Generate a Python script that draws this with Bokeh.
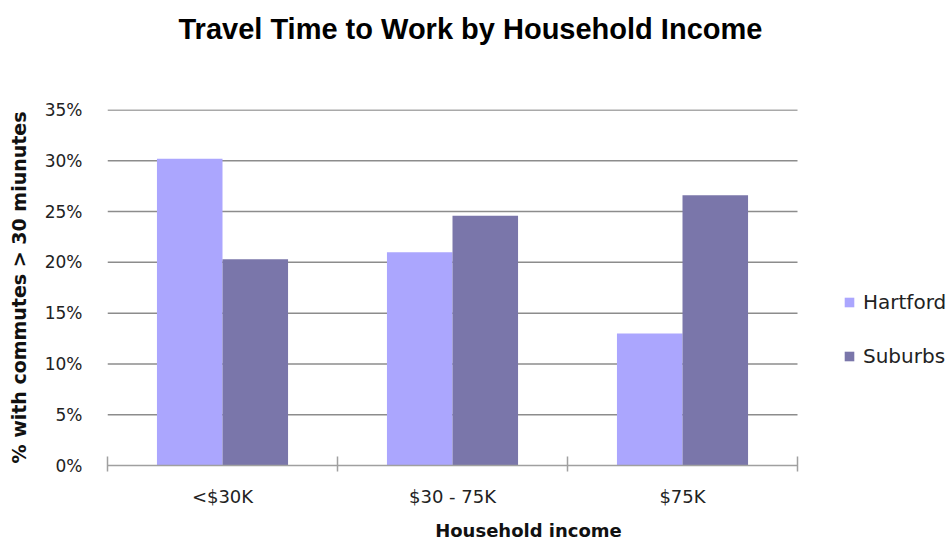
from bokeh.plotting import figure
from bokeh.models import (ColumnDataSource, FixedTicker, Legend, LegendItem,
                          NumeralTickFormatter, Range1d, Title)
from bokeh.transform import dodge
from bokeh.embed import file_html
from bokeh.resources import INLINE

categories = ["<$30K", "$30 - 75K", "$75K"]
hartford = [0.302, 0.210, 0.130]
suburbs = [0.203, 0.246, 0.266]
y_ticks = [0, 0.05, 0.10, 0.15, 0.20, 0.25, 0.30, 0.35]

FONT = "DejaVu Sans"
n = len(categories)
xpos = [i + 0.5 for i in range(n)]
src = ColumnDataSource(dict(x=xpos, hartford=hartford, suburbs=suburbs))

# layout (pixels)
LEFT, TOP, FW, FH, CAT_PX = 107, 109, 842, 356, 230
YMAX = 0.3505

p = figure(frame_width=FW, frame_height=FH, output_backend="svg",
           toolbar_location=None,
           x_range=Range1d(0, FW / CAT_PX), y_range=Range1d(0, YMAX),
           min_border_left=LEFT, min_border_right=0, min_border_top=TOP,
           min_border_bottom=10)
p.outline_line_color = None
p.background_fill_color = "white"
p.border_fill_color = "white"

# horizontal gridlines, only across the category area
gl = ColumnDataSource(dict(y=y_ticks[1:], x0=[0] * (len(y_ticks) - 1),
                           x1=[n] * (len(y_ticks) - 1)))
p.segment(x0="x0", x1="x1", y0="y", y1="y", source=gl,
          line_color="#8c8c8c", line_width=1.5)
p.xgrid.grid_line_color = None
p.ygrid.grid_line_color = None

r1 = p.vbar(x=dodge("x", -0.1425, range=p.x_range), top="hartford", width=0.285,
            source=src, fill_color="#aba6fe", line_color=None)
r2 = p.vbar(x=dodge("x", 0.1425, range=p.x_range), top="suburbs", width=0.285,
            source=src, fill_color="#7a76aa", line_color=None)

# y axis
p.yaxis.ticker = FixedTicker(ticks=y_ticks)
p.yaxis.formatter = NumeralTickFormatter(format="0%")
p.yaxis.axis_line_color = None
p.yaxis.major_tick_line_color = None
p.yaxis.minor_tick_line_color = None
p.yaxis.major_label_standoff = 19
p.yaxis.major_label_text_font = FONT
p.yaxis.major_label_text_font_size = "17px"
p.yaxis.major_label_text_color = "#222222"
p.yaxis.axis_label = "% with commutes > 30 miunutes"
p.yaxis.axis_label_text_font = FONT
p.yaxis.axis_label_text_font_style = "bold"
p.yaxis.axis_label_text_font_size = "19px"
p.yaxis.axis_label_text_color = "#111111"
p.yaxis.axis_label_standoff = 12

# x axis
p.xaxis.bounds = (0, n)
p.xaxis.ticker = FixedTicker(ticks=xpos, minor_ticks=list(range(n + 1)))
p.xaxis.major_label_overrides = {x: c for x, c in zip(xpos, categories)}
p.xaxis.axis_line_color = "#a0a0a0"
p.xaxis.axis_line_width = 1.5
p.xaxis.major_tick_line_color = None
p.xaxis.minor_tick_line_color = "#a0a0a0"
p.xaxis.minor_tick_line_width = 1.5
p.xaxis.minor_tick_in = 9
p.xaxis.minor_tick_out = 6
p.xaxis.major_label_standoff = 14
p.xaxis.major_label_text_font = FONT
p.xaxis.major_label_text_font_size = "18px"
p.xaxis.major_label_text_color = "#222222"
p.xaxis.axis_label = "Household income"
p.xaxis.axis_label_text_font = FONT
p.xaxis.axis_label_text_font_style = "bold"
p.xaxis.axis_label_text_font_size = "18px"
p.xaxis.axis_label_text_color = "#111111"
p.xaxis.axis_label_standoff = 10

# title: a blank spacer panel next to the frame, then the title text above it
p.add_layout(Title(text=" ", text_font_size="56px", standoff=0), "above")
p.add_layout(Title(text="Travel Time to Work by Household Income", align="left",
                   offset=71, standoff=0, text_font="Liberation Sans",
                   text_font_size="29px", text_font_style="bold",
                   text_color="black"), "above")

legend = Legend(items=[LegendItem(label="Hartford", renderers=[r1]),
                       LegendItem(label="Suburbs", renderers=[r2])],
                location=(736, 97), border_line_color=None,
                background_fill_alpha=0, label_text_font=FONT,
                label_text_font_size="20px", label_text_color="#222222",
                glyph_width=12, glyph_height=12, label_height=20, spacing=30,
                padding=0, margin=0, label_standoff=8)
p.add_layout(legend, "center")

open("out.html", "w").write(file_html(p, INLINE))
